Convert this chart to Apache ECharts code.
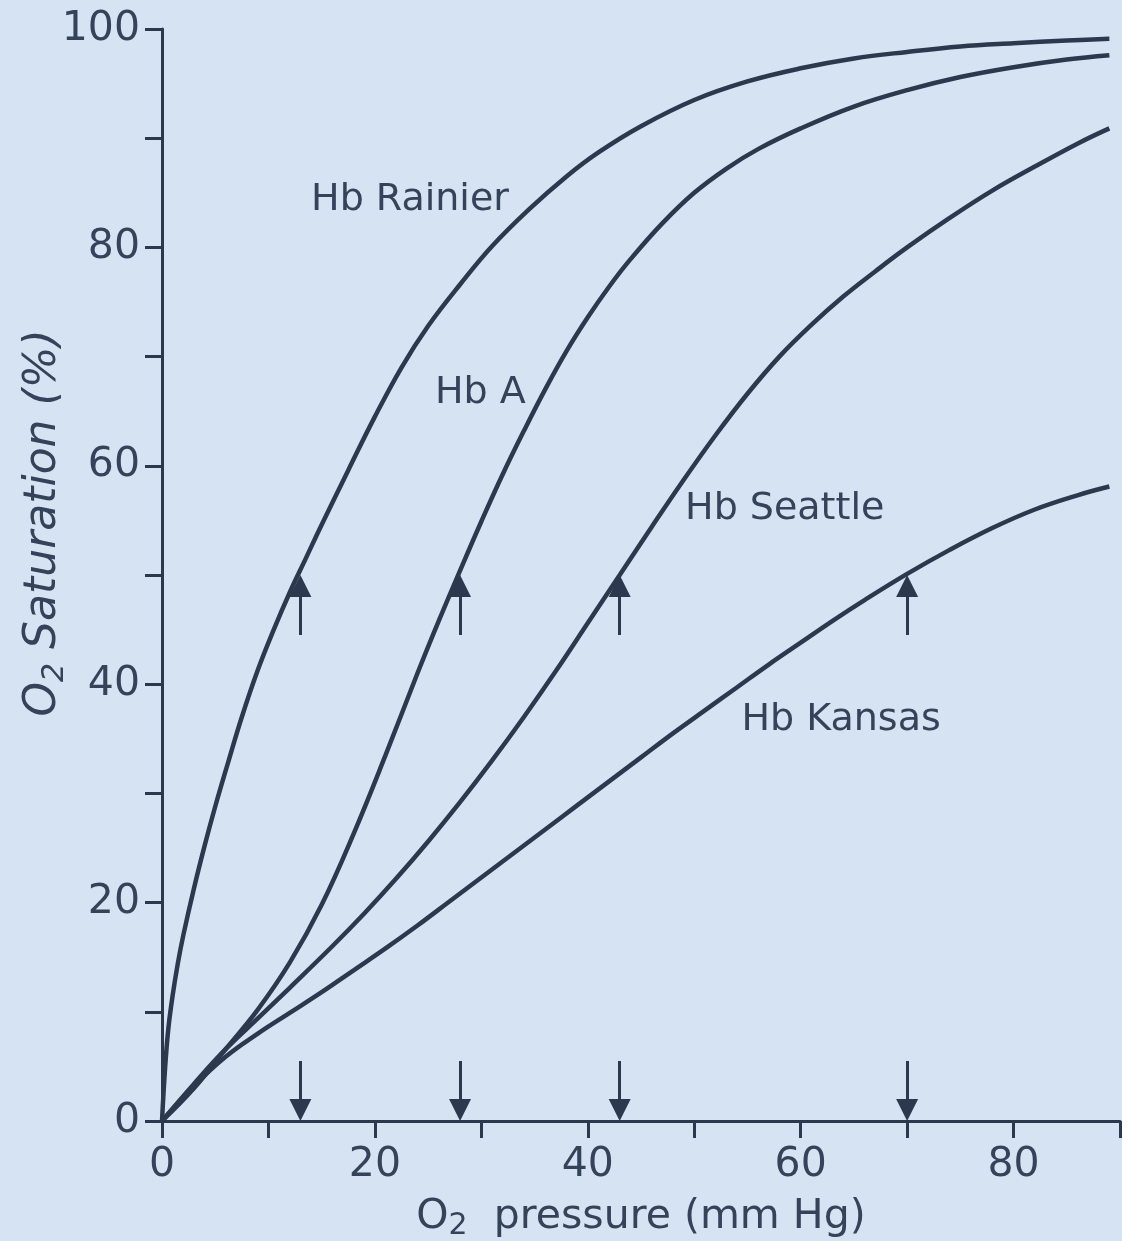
<!DOCTYPE html>
<html>
<head>
<meta charset="utf-8">
<title>O2 saturation curves</title>
<script src="https://cdn.jsdelivr.net/npm/echarts@6/dist/echarts.min.js"></script>
<style>
html, body { margin:0; padding:0; background:#d5e3f2; }
#main { width:1122px; height:1241px; }
</style>
</head>
<body>
<div id="main"></div>
<script>
// [O2 pressure (mm Hg), O2 saturation (%)]
var rainier = [[0,0],[0.3,5],[0.6,8.5],[1,11.5],[1.5,14.5],[2,17],[3,21.3],[4,25.2],[5,28.8],[6.2,32.8],[7.5,37],
  [9,41.3],[10.5,45],[12,48.4],[13.5,51.5],[15,54.6],[17.5,59.6],[20,64.5],[22.5,69],[25,72.8],[28,76.6],[31,80.1],
  [34.5,83.5],[38,86.5],[41,88.7],[45,91.1],[50,93.5],[55,95.2],[60,96.4],[65,97.3],[70,97.9],[75,98.4],[80,98.7],
  [85,98.95],[89,99.1]];
var hbA = [[0,0],[3,3],[6,6.6],[9,10.2],[12,14.5],[15,19.8],[18,26.3],[21,33.5],[24,41],[26,45.8],[28,50.4],
  [30,54.9],[32,59.2],[34,63.2],[36,67],[38,70.5],[40,73.6],[42,76.4],[44,78.9],[47,82.2],[50,85],[53,87.2],
  [56,89],[60,90.9],[65,92.9],[70,94.4],[75,95.6],[80,96.5],[85,97.2],[89,97.6]];
var seattle = [[0,0],[3,3.4],[6,6.6],[9,9.4],[12,12.2],[16,16],[19,19],[22,22.2],[25,25.6],[28,29.2],[31,33],
  [34,37],[37,41.2],[40,45.6],[43,50],[46,54.4],[49,58.7],[52,62.8],[55,66.6],[58,70],[61,72.9],[64,75.5],
  [67,77.8],[70,80],[74,82.7],[78,85.2],[82,87.4],[86,89.5],[89,90.9]];
var kansas = [[0,0],[3,3.2],[6,5.9],[9,8],[12,9.9],[15,11.8],[18,13.8],[21,15.8],[24,17.9],[27,20.1],[30,22.3],
  [33,24.5],[36,26.7],[39,28.9],[42,31.1],[45,33.3],[48,35.5],[51,37.6],[54,39.7],[57,41.8],[60,43.8],[63,45.8],
  [66,47.7],[70,50.1],[74,52.3],[78,54.3],[82,56],[86,57.3],[89,58.1]];
var names = ['Hb Rainier', 'Hb A', 'Hb Seattle', 'Hb Kansas'];
// half-saturation pressures marked by arrows
var p50 = [13, 28, 43, 70];

var ink = '#2c384e';
var txt = '#34425a';
var font = '"DejaVu Sans", sans-serif';

function curve(name, data, labelAt) {
  return {
    name: name,
    type: 'line',
    data: data,
    showSymbol: false,
    smooth: 0.4,
    lineStyle: { color: ink, width: 4.5 },
    markPoint: {
      symbol: 'circle',
      symbolSize: 1,
      itemStyle: { color: 'transparent' },
      label: { show: true, position: 'inside', color: txt, fontSize: 38, fontFamily: font, formatter: name },
      data: [{ coord: labelAt }]
    }
  };
}

// arrow shafts: up from below to the curve, down onto the axis
var arrows = [];
p50.forEach(function (p) {
  arrows.push({ coords: [[p, 44.5], [p, 49]] });
  arrows.push({ coords: [[p, 5.5], [p, 1]] });
});

var chart = echarts.init(document.getElementById('main'));
chart.setOption({
  backgroundColor: '#d5e3f2',
  animation: false,
  grid: { left: 162, right: 2, top: 29, bottom: 120, outerBoundsMode: 'none' },
  xAxis: {
    type: 'value', min: 0, max: 90, interval: 10,
    name: '{o|O}{s|2}  pressure (mm Hg)',
    nameLocation: 'middle', nameGap: 72,
    nameTextStyle: {
      color: txt, fontFamily: font, fontSize: 41, lineHeight: 48,
      rich: {
        o: { fontSize: 41, lineHeight: 48, fontFamily: font, color: txt },
        s: { fontSize: 30, lineHeight: 6, verticalAlign: 'bottom', fontFamily: font, color: txt }
      }
    },
    splitLine: { show: false },
    axisLine: { lineStyle: { color: ink, width: 3 } },
    axisTick: { length: 17, lineStyle: { color: ink, width: 3 } },
    axisLabel: {
      margin: 24, fontSize: 41, color: txt, fontFamily: font,
      formatter: function (v) { return v % 20 === 0 ? v : ''; }
    }
  },
  yAxis: {
    type: 'value', min: 0, max: 100, interval: 10,
    splitLine: { show: false },
    axisLine: { show: true, lineStyle: { color: ink, width: 3 } },
    axisTick: { show: true, length: 17, lineStyle: { color: ink, width: 3 } },
    axisLabel: {
      margin: 22, fontSize: 41, color: txt, fontFamily: font,
      formatter: function (v) { return v % 20 === 0 ? v : ''; }
    }
  },
  graphic: [{
    type: 'text', x: 44, y: 523, rotation: Math.PI / 2,
    style: {
      text: '{o|O}{s|2} Saturation (%)',
      align: 'center', verticalAlign: 'middle',
      fill: txt,
      font: 'italic 44px ' + font,
      rich: {
        o: { fontSize: 44, fontStyle: 'italic', lineHeight: 52, fontFamily: font, fill: txt },
        s: { fontSize: 30, fontStyle: 'italic', lineHeight: 8, verticalAlign: 'bottom', fontFamily: font, fill: txt }
      }
    }
  }],
  series: [
    curve(names[0], rainier, [23.3, 84.3]),
    curve(names[1], hbA, [29.9, 66.7]),
    curve(names[2], seattle, [58.5, 56]),
    curve(names[3], kansas, [63.8, 36.7]),
    {
      type: 'lines',
      coordinateSystem: 'cartesian2d',
      symbol: ['none', 'triangle'],
      symbolSize: [12, 22],
      lineStyle: { color: ink, width: 3, opacity: 1 },
      itemStyle: { color: ink },
      data: arrows
    }
  ]
});
</script>
</body>
</html>
